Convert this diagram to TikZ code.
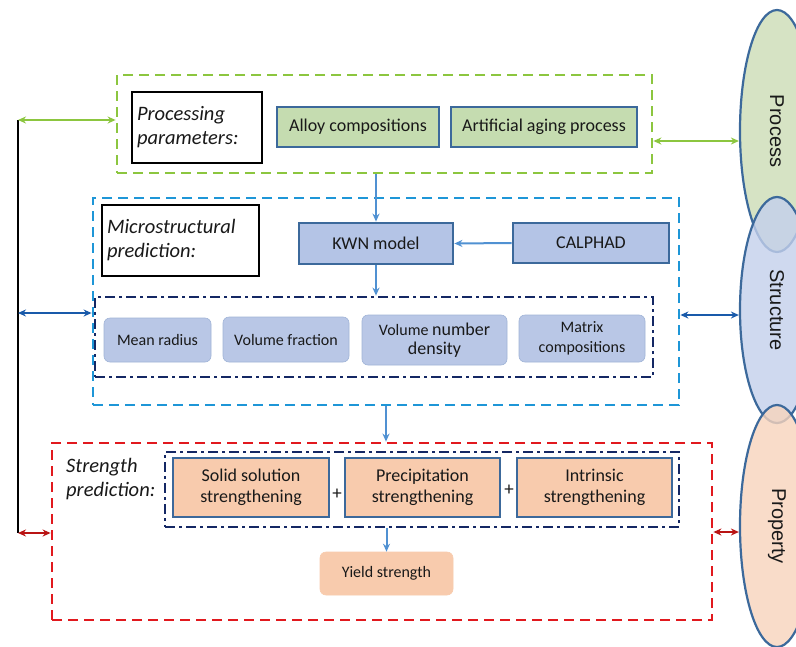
\documentclass[tikz,border=0pt]{standalone}
\usepackage{fontspec}
\setmainfont{Carlito}
\newfontfamily\arialf{Liberation Sans}
\usetikzlibrary{shapes.geometric,arrows.meta}
\definecolor{cgreen}{RGB}{140,198,63}
\definecolor{cblue}{RGB}{30,150,215}
\definecolor{cnavy}{RGB}{20,40,100}
\definecolor{cred}{RGB}{225,25,30}
\definecolor{cdred}{RGB}{185,20,20}
\definecolor{cdblue}{RGB}{25,90,170}
\definecolor{carrow}{RGB}{80,145,210}
\definecolor{cborder}{RGB}{60,105,155}
\definecolor{gfill}{RGB}{197,220,176}
\definecolor{bfill}{RGB}{180,196,230}
\definecolor{sfill}{RGB}{185,199,230}
\definecolor{ofill}{RGB}{248,203,173}
\definecolor{epfill}{RGB}{214,227,196}
\definecolor{esfill}{RGB}{196,208,236}
\definecolor{eofill}{RGB}{248,212,188}
\definecolor{txt}{RGB}{25,25,25}
\begin{document}
\begin{tikzpicture}[x=1pt,y=-1pt,
  every node/.style={text=txt, inner sep=0pt},
  gdash/.style={draw=cgreen, line width=2.8pt, dash pattern=on 10pt off 6pt},
  bdash/.style={draw=cblue, line width=2.8pt, dash pattern=on 10pt off 6pt},
  rdash/.style={draw=cred, line width=2.8pt, dash pattern=on 10pt off 6pt},
  ndash/.style={draw=cnavy, line width=2.8pt, dash pattern=on 10pt off 4pt on 3pt off 4pt},
  labelbox/.style={draw=black, line width=2.8pt, fill=white, align=left, font=\fontsize{20.5}{24}\selectfont\itshape},
  gbox/.style={draw=cborder, line width=2.8pt, fill=gfill, font=\fontsize{18}{21}\selectfont},
  bbox/.style={draw=cborder, line width=2.8pt, fill=bfill, font=\fontsize{18}{21}\selectfont},
  sbox/.style={draw=sfill!80!cborder, line width=0.6pt, fill=sfill, rounded corners=6pt, align=center, font=\fontsize{16}{19.5}\selectfont},
  obox/.style={draw=cborder, line width=2.8pt, fill=ofill, align=center, font=\fontsize{18}{21.5}\selectfont},
  ebase/.style={ellipse, draw=cborder, line width=2.2pt, minimum width=74pt, minimum height=242pt},
  etext/.style={font=\arialf\fontsize{20}{24}\selectfont, rotate=-90},
  arr/.style={draw=carrow, line width=2pt, -{Stealth[length=8pt,width=7pt]}},
  darr/.style={line width=2.2pt, {Stealth[length=8pt,width=7pt]}-{Stealth[length=8pt,width=7pt]}}
]
\useasboundingbox (0,0) rectangle (796,646);
\clip (0,0) rectangle (796,646);
\fill[white] (0,0) rectangle (796,646);

% ellipses
\node[ebase, fill=epfill] (process) at (777,131) {};
\node[ebase, fill=esfill, fill opacity=0.8, minimum height=226pt] (structure) at (777,310) {};
\node[ebase, fill=eofill, fill opacity=0.8] (property) at (777,526) {};
\node[etext] at (process.center) {Process};
\node[etext] at (structure.center) {Structure};
\node[etext] at (property.center) {Property};

% frames
\node[gdash, minimum width=535pt, minimum height=98pt] (gframe) at (384.5,124) {};
\node[bdash, minimum width=586pt, minimum height=207pt] (bframe) at (386,301.5) {};
\node[ndash, minimum width=558pt, minimum height=80pt] (nframe1) at (374,337) {};
\node[rdash, minimum width=660pt, minimum height=177pt] (rframe) at (382,531.5) {};
\node[ndash, minimum width=514pt, minimum height=75pt] (nframe2) at (422,489.5) {};

% processing
\node[labelbox, minimum width=130pt, minimum height=71pt, text width=120pt] (plabel) at (197,127.5) {Processing\\parameters:};
\node[gbox, minimum width=162pt, minimum height=40pt] (alloy) at (358,127) {Alloy compositions};
\node[gbox, minimum width=186pt, minimum height=40pt] (aging) at (544,127) {Artificial aging process};

% microstructure
\node[labelbox, minimum width=157pt, minimum height=71pt, text width=147pt] (mlabel) at (180.5,240.5) {Microstructural\\prediction:};
\node[bbox, minimum width=154pt, minimum height=41pt] (kwn) at (376,243.5) {KWN model};
\node[bbox, minimum width=156pt, minimum height=40pt] (calphad) at (591,243) {CALPHAD};

\node[sbox, minimum width=107pt, minimum height=44pt] (radius) at (157.5,340) {Mean radius};
\node[sbox, minimum width=126pt, minimum height=45pt] (fraction) at (286,339.5) {Volume fraction};
\node[sbox, minimum width=145pt, minimum height=50pt] (density) at (434.5,340) {Volume {\fontsize{18}{21}\selectfont number}\\{\fontsize{18}{21}\selectfont density}};
\node[sbox, minimum width=126pt, minimum height=47pt] (matrix) at (582,338.5) {Matrix\\compositions};

% strength
\node[anchor=west, align=left, font=\fontsize{20.5}{24}\selectfont\itshape] (slabel) at (66,479) {Strength\\prediction:};
\node[obox, minimum width=156pt, minimum height=59pt] (solid) at (251,487.5) {Solid solution\\strengthening};
\node[obox, minimum width=155pt, minimum height=59pt] (precip) at (422.5,487.5) {Precipitation\\strengthening};
\node[obox, minimum width=155pt, minimum height=59pt] (intrin) at (594.5,487.5) {Intrinsic\\strengthening};
\node[font=\fontsize{19}{22}\selectfont] (plus1) at (337,494) {+};
\node[font=\fontsize{19}{22}\selectfont] (plus2) at (509,490) {+};
\node[sbox, draw=ofill, fill=ofill, minimum width=133pt, minimum height=43pt] (yield) at (386.5,573.5) {Yield strength};

% connectors
\coordinate (Ltop) at (18,120);
\coordinate (Lmid) at (18,313);
\coordinate (Lbot) at (18,533);
\draw[black, line width=2.6pt] (Ltop) -- (Lbot);

\draw[darr, draw=cgreen] (Ltop) -- (gframe.west |- Ltop);
\draw[darr, draw=cgreen] (gframe.east |- 0,141) -- (process.west |- 0,141);
\draw[darr, draw=cdblue] (Lmid) -- (bframe.west |- Lmid);
\draw[darr, draw=cdblue] (bframe.east |- 0,315) -- (structure.west |- 0,315);
\draw[darr, draw=cdred] (Lbot) -- (rframe.west |- Lbot);
\draw[darr, draw=cdred] (rframe.east |- 0,532) -- (property.west |- 0,532);

\draw[arr] (gframe.south -| kwn) -- (kwn.north);
\draw[arr] (calphad.west) -- (kwn.east);
\draw[arr] (kwn.south) -- (nframe1.north -| kwn);
\draw[arr] (bframe.south) -- (bframe.south |- rframe.north);
\draw[arr] (nframe2.south -| yield) -- (yield.north);
\end{tikzpicture}
\end{document}
